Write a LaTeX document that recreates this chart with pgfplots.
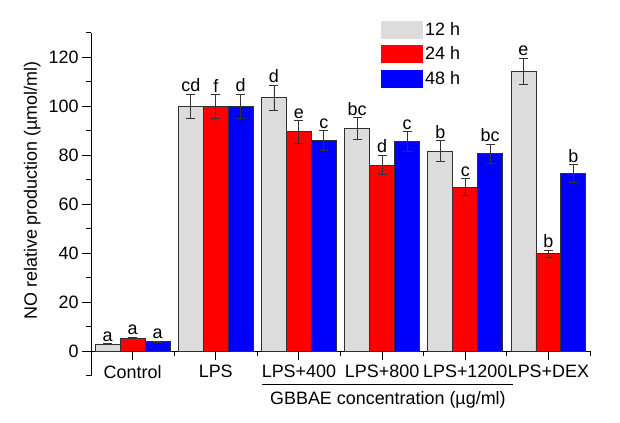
\documentclass[border=0pt]{standalone}
\usepackage{pgfplots}
\usepackage{pgfplotstable}
\pgfplotsset{compat=1.18}
\usepackage{fontspec}
\setmainfont{Liberation Sans}
\definecolor{cgray}{HTML}{DCDCDC}
\definecolor{cred}{HTML}{FF0000}
\definecolor{cblue}{HTML}{0000FF}
\definecolor{edge}{HTML}{303030}
\definecolor{errc}{HTML}{333333}

\pgfplotstableread{
x y e
0 3.0 0.3
1 100 5
2 103.6 5.1
3 91.0 4.5
4 81.8 4.2
5 114.3 5.5
}\twelve
\pgfplotstableread{
x y e
0 5.5 0.3
1 100 5
2 89.7 4.6
3 76.1 4.0
4 67.0 3.5
5 39.9 1.5
}\twentyfour
\pgfplotstableread{
x y e
0 4.0 0.3
1 100 5
2 86.0 4.1
3 85.8 4.0
4 80.7 4.0
5 72.5 3.7
}\fortyeight

\begin{document}
\begin{tikzpicture}[font=\fontsize{18}{21}\selectfont]
\begin{axis}[
  scale only axis, width=499bp, height=343bp,
  xmin=-0.5, xmax=5.5, ymin=-10, ymax=130,
  axis x line=middle, axis y line=left,
  axis line style={-, line width=1bp, black},
  every inner x axis line/.append style={-},
  every outer y axis line/.append style={-},
  xtick={0,1,2,3,4,5},
  xticklabels={Control,LPS,LPS+400,LPS+800,LPS+1200,LPS+DEX},
  minor xtick={0.5,1.5,2.5,3.5,4.5,5.5},
  ytick={0,20,40,60,80,100,120},
  minor ytick={-10,10,30,50,70,90,110,130},
  tick align=outside,
  major tick length=9bp, minor tick length=5bp,
  tick style={black, line width=1bp},
  xticklabel style={yshift=-1bp},
  ylabel={NO relative production (µmol/ml)},
  ylabel style={at={(rel axis cs:-0.118,0.541)}, anchor=center},
  /pgf/number format/assume math mode=true,
  clip=false,
  ybar, bar width=0.3,
  legend style={at={(rel axis cs:0.575,1.043)}, anchor=north west, draw=none, fill=none,
    row sep=6bp, /tikz/every even column/.append style={column sep=10bp}},
  legend image code/.code={\path[#1, draw=none] (0bp,-9bp) rectangle (42bp,9bp);},
  error bars/y dir=both, error bars/y explicit,
  error bars/error bar style={errc, line width=0.9bp},
  error bars/error mark options={rotate=90, mark size=4.5bp, line width=0.9bp, errc},
]
\addplot[fill=cgray, draw=edge, line width=0.9bp, bar shift=-0.3]
  table[x=x, y=y, y error=e]{\twelve};
\addplot[fill=cred, draw=edge, line width=0.9bp, bar shift=0]
  table[x=x, y=y, y error=e]{\twentyfour};
\addplot[fill=cblue, draw=edge, line width=0.9bp, bar shift=0.3]
  table[x=x, y=y, y error=e]{\fortyeight};
\legend{12 h, 24 h, 48 h}

% significance letters
\begin{scope}[every node/.style={anchor=south, inner sep=2bp}]
\node at (axis cs:-0.3,3.3) {a};
\node at (axis cs:0.7,105) {cd};
\node at (axis cs:1.7,108.7) {d};
\node at (axis cs:2.7,95.5) {bc};
\node at (axis cs:3.7,86) {b};
\node at (axis cs:4.7,119.8) {e};
\node at (axis cs:0,5.8) {a};
\node at (axis cs:1,105) {f};
\node at (axis cs:2,94.3) {e};
\node at (axis cs:3,80.1) {d};
\node at (axis cs:4,70.5) {c};
\node at (axis cs:5,41.4) {b};
\node at (axis cs:0.3,4.3) {a};
\node at (axis cs:1.3,105) {d};
\node at (axis cs:2.3,90.1) {c};
\node at (axis cs:3.3,89.8) {c};
\node at (axis cs:4.3,84.7) {bc};
\node at (axis cs:5.3,76.2) {b};
\end{scope}

\draw[black, line width=1bp] (axis cs:1.56,-13.3) -- (axis cs:4.58,-13.3);
\node[anchor=north, inner sep=2bp] at (axis cs:3.07,-15.5) {GBBAE concentration (µg/ml)};

\coordinate (bbsw) at (rel axis cs:-0.1824,-0.137);
\coordinate (bbne) at (rel axis cs:1.0601,1.0962);
\end{axis}
\pgfresetboundingbox
\path (bbsw) rectangle (bbne);
\end{tikzpicture}
\end{document}
